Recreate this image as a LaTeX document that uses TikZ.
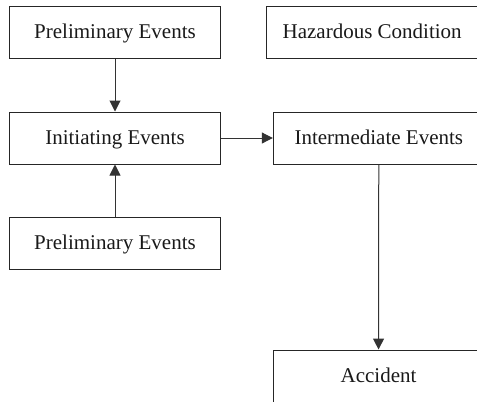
\documentclass[tikz,border=0pt]{standalone}
\usepackage{fontspec}
\setmainfont{Liberation Serif}
\usetikzlibrary{arrows.meta}
\begin{document}
\begin{tikzpicture}[x=1bp,y=-1bp,
  evbox/.style={draw=black!85,line width=1bp,minimum width=211bp,minimum height=52bp,
    inner sep=0pt,text height=16.5bp,text depth=4bp,
    font=\fontsize{21bp}{25bp}\selectfont,text=black!90},
  link/.style={draw=black!80,line width=1bp,-{Triangle[length=11bp,width=11bp]}}]
\useasboundingbox (0,0) rectangle (477,401);
\clip (0,0) rectangle (477,401);
\node[evbox] (pre1)  at (115,32)    {Preliminary Events};
\node[evbox] (haz)   at (372.2,32)  {Hazardous Condition};
\node[evbox] (init)  at (115,138)   {Initiating Events};
\node[evbox] (inter) at (378.8,138) {Intermediate Events};
\node[evbox] (pre2)  at (115,243.5) {Preliminary Events};
\node[evbox] (acc)   at (378.5,376) {Accident};
\draw[link] (pre1) -- (init);
\draw[link] (pre2) -- (init);
\draw[link] (init) -- (inter);
\draw[link] (inter) -- (acc);
\end{tikzpicture}
\end{document}
